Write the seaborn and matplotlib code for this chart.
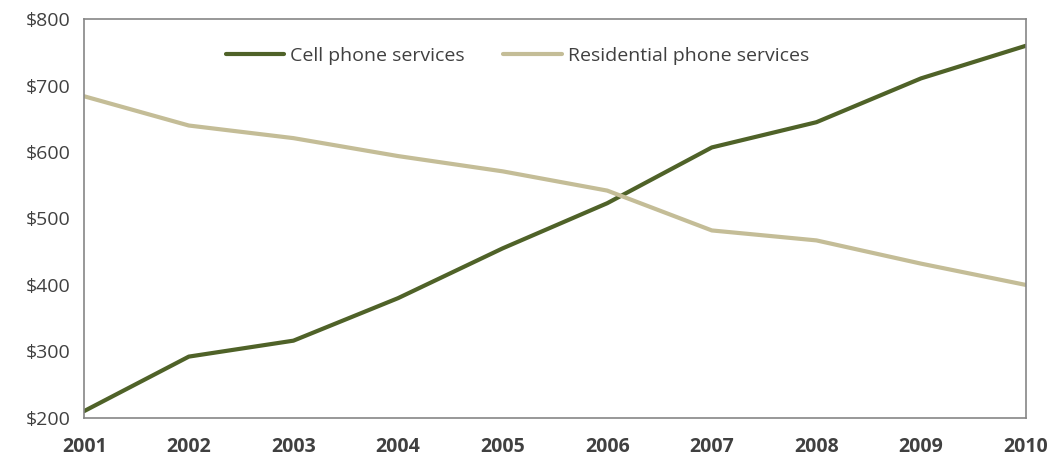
import pandas as pd
import matplotlib.pyplot as plt
import seaborn as sns
from matplotlib.ticker import FuncFormatter

# data
years = [2001, 2002, 2003, 2004, 2005, 2006, 2007, 2008, 2009, 2010]
cell_phone = [210, 292, 316, 380, 455, 523, 607, 645, 711, 760]
residential = [684, 640, 621, 594, 571, 542, 482, 467, 432, 400]

df = pd.DataFrame({
    "year": years * 2,
    "cost": cell_phone + residential,
    "service": ["Cell phone services"] * len(years) + ["Residential phone services"] * len(years),
})

sns.set_style("white")
plt.rcParams["font.family"] = ["Open Sans", "DejaVu Sans"]

fig, ax = plt.subplots(figsize=(10.53, 4.59), dpi=100)
sns.lineplot(data=df, x="year", y="cost", hue="service",
             palette={"Cell phone services": "#4f6228",
                      "Residential phone services": "#c4bd97"},
             linewidth=3, ax=ax)

ax.set_xlim(2001, 2010)
ax.set_ylim(200, 800)
ax.set_xticks(years)
ax.set_yticks(range(200, 801, 100))
ax.yaxis.set_major_formatter(FuncFormatter(lambda v, p: f"${v:.0f}"))
ax.set_xlabel("")
ax.set_ylabel("")
ax.tick_params(axis="both", direction="in", length=5, color="#868686",
               labelsize=14, labelcolor="#404040")
ax.tick_params(axis="x", pad=14)
ax.tick_params(axis="y", pad=10)
for lbl in ax.get_xticklabels():
    lbl.set_fontweight("bold")
for s in ax.spines.values():
    s.set_color("#868686")
    s.set_linewidth(1.2)

ax.legend(loc="upper center", ncol=2, frameon=False, fontsize=14,
          bbox_to_anchor=(0.46, 0.975), handlelength=3, handletextpad=0.3,
          columnspacing=2.0, labelcolor="#404040")

plt.subplots_adjust(left=0.08, right=0.974, top=0.958, bottom=0.09)
plt.savefig("out.png", dpi=100)
